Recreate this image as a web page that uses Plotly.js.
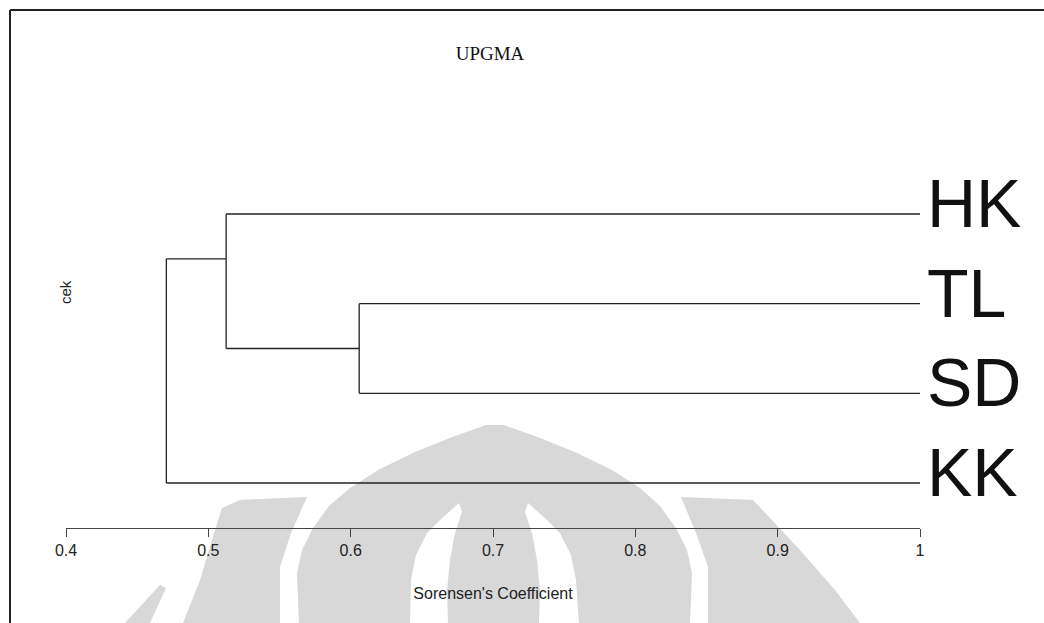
<!DOCTYPE html>
<html>
<head>
<meta charset="utf-8">
<script src="https://cdn.plot.ly/plotly-3.0.1.min.js"></script>
<style>html,body{margin:0;padding:0;background:#fff;}#chart{width:1044px;height:623px;}</style>
</head>
<body>
<div id="chart"></div>
<script>
// ---- data ----
const chartTitle = "UPGMA";
const xTitle = "Sorensen's Coefficient";
const yTitle = "cek";
const leaves = ["HK", "TL", "SD", "KK"];          // top to bottom
const mergeA = ["TL", "HK", "C2"];                // first member of each merge
const mergeB = ["SD", "C1", "KK"];                // second member of each merge
const mergeLevel = [0.606, 0.5125, 0.4705];       // similarity at which they join
const tickVals = [0.4, 0.5, 0.6, 0.7, 0.8, 0.9, 1.0];
const tickText = ["0.4", "0.5", "0.6", "0.7", "0.8", "0.9", "1"];

// ---- build dendrogram segments ----
const nodes = {};
leaves.forEach((n, i) => { nodes[n] = {y: leaves.length - i, top: leaves.length - i, h: 1.0}; });
const xs = [], ys = [];
mergeA.forEach((an, k) => {
  const a = nodes[an], b = nodes[mergeB[k]], h = mergeLevel[k];
  xs.push(a.h, h, null); ys.push(a.y, a.y, null);
  xs.push(b.h, h, null); ys.push(b.y, b.y, null);
  xs.push(h, h, null);   ys.push(a.y, b.y, null);
  nodes["C" + (k + 1)] = {y: (a.top + b.top) / 2, top: Math.max(a.top, b.top), h: h};
});

// ---- layout geometry ----
const W = 1044, H = 623;
const M = {l: 66, r: 124, t: 100, b: 95};
const PW = W - M.l - M.r, PH = H - M.t - M.b;
const px = v => (v - M.l) / PW;
const py = v => (H - M.b - v) / PH;
function poly(pts, color) {
  const d = pts.map((p, i) => (i ? "L" : "M") + px(p[0]).toFixed(5) + "," + py(p[1]).toFixed(5)).join(" ") + " Z";
  return {type: "path", xref: "paper", yref: "paper", path: d, fillcolor: color, line: {width: 0}, layer: "below"};
}
const G = "#d8d8d8";
const shapes = [
  // watermark: central dome
  poly([[486,425],[504,425],[535,436],[575,452],[612,470],[640,488],[660,506],[676,528],[687,550],[692,573],[691,600],[690,623],
        [299,623],[298,600],[297,573],[302,550],[313,528],[329,506],[350,488],[378,470],[415,452],[455,436]], G),
  // inner white blades
  poly([[459,503],[440,520],[427,533],[416,555],[411,580],[410,623],[448,623],[447,590],[450,560],[455,533],[462,512]], "#ffffff"),
  poly([[528,503],[547,520],[560,533],[571,555],[576,580],[579,623],[539,623],[540,590],[537,560],[532,533],[525,512]], "#ffffff"),
  // left wing
  poly([[307,497],[240,500],[222,508],[212,540],[200,580],[183,623],[280,623],[280,567],[291,533]], G),
  // far-left sliver
  poly([[160,585],[166,588],[150,623],[125,623]], G),
  // right wing
  poly([[681,497],[753,500],[800,550],[835,590],[860,623],[708,623],[708,567],[696,533]], G),
  // frame
  {type: "line", xref: "paper", yref: "paper", x0: px(10), x1: px(W), y0: py(10), y1: py(10), line: {color: "#222", width: 2}},
  {type: "line", xref: "paper", yref: "paper", x0: px(10), x1: px(10), y0: py(10), y1: py(H), line: {color: "#222", width: 2}}
];

const annotations = leaves.map((n) => ({
  x: 1.0, xref: "x", y: nodes[n].y, yref: "y", text: n, showarrow: false,
  xanchor: "left", yanchor: "middle", xshift: 5, yshift: 11,
  font: {family: "Liberation Sans, Arial, sans-serif", size: 68, color: "#111"}
}));
annotations.push({
  x: px(65), xref: "paper", y: py(292), yref: "paper", text: yTitle, showarrow: false,
  textangle: -90, xanchor: "center", yanchor: "middle",
  font: {family: "Liberation Sans, Arial, sans-serif", size: 15, color: "#222"}
});

const trace = {
  x: xs, y: ys, type: "scatter", mode: "lines",
  line: {color: "#222", width: 1.3}, hoverinfo: "skip", showlegend: false
};

const layout = {
  width: W, height: H,
  margin: M,
  paper_bgcolor: "#ffffff", plot_bgcolor: "rgba(0,0,0,0)",
  showlegend: false,
  title: {
    text: chartTitle, x: 490 / W, xref: "container", xanchor: "center",
    y: 1 - 53 / H, yref: "container", yanchor: "middle",
    font: {family: "Liberation Serif, Times New Roman, serif", size: 19, color: "#111"}
  },
  xaxis: {
    range: [0.4, 1.0], tickvals: tickVals, ticktext: tickText,
    showline: true, linecolor: "#444", linewidth: 1,
    ticks: "outside", ticklen: 8, tickcolor: "#444", tickwidth: 1,
    showgrid: false, zeroline: false,
    tickfont: {family: "Liberation Sans, Arial, sans-serif", size: 16, color: "#222"},
    title: {text: xTitle, standoff: 29, font: {family: "Liberation Sans, Arial, sans-serif", size: 16, color: "#222"}}
  },
  yaxis: {
    range: [1 - (H - M.b - 483) / ((483 - 214) / 3), 4 + (214 - M.t) / ((483 - 214) / 3)],
    showline: false, showticklabels: false, ticks: "", showgrid: false, zeroline: false
  },
  shapes: shapes,
  annotations: annotations
};

Plotly.newPlot("chart", [trace], layout, {displayModeBar: false, staticPlot: true});
</script>
</body>
</html>
